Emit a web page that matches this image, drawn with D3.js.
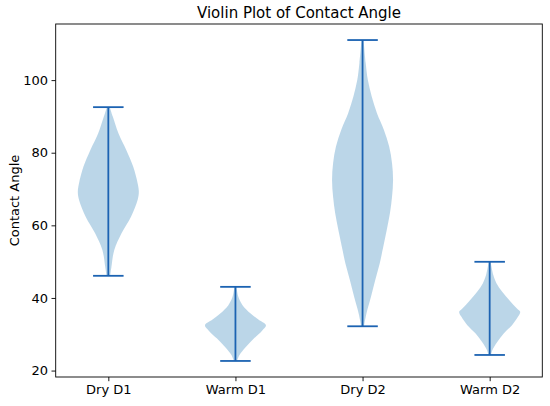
<!DOCTYPE html>
<html>
<head>
<meta charset="utf-8">
<script src="https://cdn.jsdelivr.net/npm/d3@7"></script>
<style>
  html, body { margin: 0; padding: 0; background: #fff; }
  svg { display: block; font-family: "DejaVu Sans", sans-serif; }
</style>
</head>
<body>
<svg id="chart" width="550" height="406"></svg>
<script>
// ---- data ----
const categories = ["Dry D1", "Warm D1", "Dry D2", "Warm D2"];
const yTicks = [20, 40, 60, 80, 100];
const title = "Violin Plot of Contact Angle";
const yLabel = "Contact Angle";

// min / max of each group (whisker caps)
const mins = [46.1, 22.65, 32.2, 24.3];
const maxs = [92.55, 43.06, 111.03, 49.96];

// density profiles: contact-angle values and relative density (1 = widest)
const dryD1Values  = [92.55, 89.96, 85.38, 80.77, 76.17, 71.59, 69.27, 66.98, 62.37, 57.79, 53.19, 48.58, 46.1];
const dryD1Density = [0.046, 0.146, 0.331, 0.588, 0.814, 0.96, 1, 0.96, 0.743, 0.433, 0.195, 0.102, 0.062];

const warmD1Values  = [43.06, 40.3, 38.0, 35.7, 34.0, 32.5, 31.0, 28.8, 26.5, 24.2, 22.65];
const warmD1Density = [0.032, 0.095, 0.232, 0.498, 0.762, 1, 0.873, 0.603, 0.34, 0.127, 0.054];

const dryD2Values  = [111.03, 104.69, 100.08, 95.48, 90.9, 86.29, 81.68, 77.1, 72.5, 67.89, 63.31, 58.7, 54.1, 49.52, 44.91, 40.3, 35.72, 32.2];
const dryD2Density = [0.034, 0.103, 0.172, 0.3, 0.472, 0.7, 0.872, 0.966, 1, 0.966, 0.897, 0.793, 0.679, 0.562, 0.414, 0.276, 0.128, 0.045];

const warmD2Values  = [49.96, 46.29, 44.0, 41.68, 39.39, 37.1, 36.17, 34.79, 32.5, 30.21, 27.89, 25.6, 24.3];
const warmD2Density = [0.032, 0.119, 0.226, 0.41, 0.645, 0.894, 1, 0.926, 0.732, 0.461, 0.248, 0.087, 0.042];

const profiles = [
  { values: dryD1Values, density: dryD1Density },
  { values: warmD1Values, density: warmD1Density },
  { values: dryD2Values, density: dryD2Density },
  { values: warmD2Values, density: warmD2Density }
];

// ---- layout ----
const W = 550, H = 406;
const margin = { left: 55.7, right: W - 542.3, top: 24, bottom: H - 377 };
const fillColor = "#1f77b4";
const lineColor = "#1c63b2";
const violinWidth = 0.48;   // in position units (matplotlib-like)

const svg = d3.select("#chart");

// x: numeric positions 1..n like matplotlib, xlim with 5% margin
const positions = categories.map((c, i) => i + 1);
const xLo = 1 - violinWidth / 2, xHi = categories.length + violinWidth / 2;
const xPad = (xHi - xLo) * 0.05;
const x = d3.scaleLinear()
  .domain([xLo - xPad, xHi + xPad])
  .range([margin.left, W - margin.right]);

const yMin = d3.min(mins), yMax = d3.max(maxs);
const yPad = (yMax - yMin) * 0.05;
const y = d3.scaleLinear()
  .domain([yMin - yPad, yMax + yPad])
  .range([H - margin.bottom, margin.top]);

const g = svg.append("g");

// violins
const halfW = violinWidth / 2;
profiles.forEach((p, i) => {
  const pos = positions[i];
  const pts = p.values.map((v, k) => ({ v, d: p.density[k] }));
  const area = d3.area()
    .y(d => y(d.v))
    .x0(d => x(pos - d.d * halfW))
    .x1(d => x(pos + d.d * halfW))
    .curve(d3.curveCatmullRom);
  g.append("path")
    .datum(pts)
    .attr("d", area)
    .attr("fill", fillColor)
    .attr("fill-opacity", 0.3)
    .attr("stroke", "none");
});

// bars and caps
const capHalf = violinWidth / 4;
positions.forEach((pos, i) => {
  g.append("line")
    .attr("x1", x(pos)).attr("x2", x(pos))
    .attr("y1", y(mins[i])).attr("y2", y(maxs[i]))
    .attr("stroke", lineColor).attr("stroke-width", 1.8);
  [mins[i], maxs[i]].forEach(v => {
    g.append("line")
      .attr("x1", x(pos - capHalf)).attr("x2", x(pos + capHalf))
      .attr("y1", y(v)).attr("y2", y(v))
      .attr("stroke", lineColor).attr("stroke-width", 1.8);
  });
});

// axes
const xAxis = d3.axisBottom(x)
  .tickValues(positions)
  .tickFormat((d, i) => categories[i])
  .tickSize(4.2).tickPadding(4);
const yAxis = d3.axisLeft(y)
  .tickValues(yTicks)
  .tickSize(4.2).tickPadding(3.5);

const gx = svg.append("g")
  .attr("transform", `translate(0,${H - margin.bottom})`)
  .call(xAxis);
const gy = svg.append("g")
  .attr("transform", `translate(${margin.left},0)`)
  .call(yAxis);

[gx, gy].forEach(a => {
  a.select(".domain").remove();
  a.selectAll(".tick line").attr("stroke", "#000").attr("stroke-width", 0.9);
  a.selectAll(".tick text")
    .attr("fill", "#000")
    .style("font-family", "'DejaVu Sans', sans-serif")
    .style("font-size", "13px");
});

// frame (spines)
svg.append("rect")
  .attr("x", margin.left).attr("y", margin.top)
  .attr("width", W - margin.left - margin.right)
  .attr("height", H - margin.top - margin.bottom)
  .attr("fill", "none").attr("stroke", "#000").attr("stroke-width", 0.9);

// title
svg.append("text")
  .attr("x", (margin.left + W - margin.right) / 2)
  .attr("y", 17.5)
  .attr("text-anchor", "middle")
  .style("font-size", "15px")
  .attr("fill", "#000")
  .text(title);

// y label
svg.append("text")
  .attr("transform", `translate(18.5,${(margin.top + H - margin.bottom) / 2}) rotate(-90)`)
  .attr("text-anchor", "middle")
  .style("font-size", "13px")
  .attr("fill", "#000")
  .text(yLabel);
</script>
</body>
</html>
